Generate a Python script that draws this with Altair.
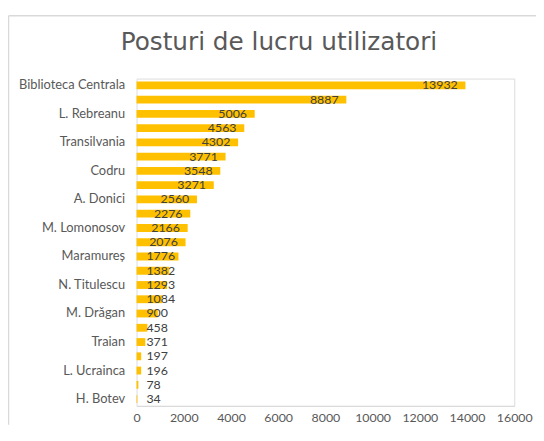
import altair as alt
import pandas as pd

categories = ["Biblioteca Centrala", "Ovidius", "L. Rebreanu", "Ștefan cel Mare",
              "Transilvania", "Alba Iulia", "Codru", "O. Ghibu", "A. Donici",
              "Târgu Mureș", "M. Lomonosov", "Petru Movilă", "Maramureș",
              "Ginta Latină", "N. Titulescu", "Meridian", "M. Drăgan",
              "B. P. Hasdeu", "Traian", "Trandafirilor", "L. Ucrainca",
              "Sf. Iov", "H. Botev"]
values = [13932, 8887, 5006, 4563, 4302, 3771, 3548, 3271, 2560, 2276, 2166,
          2076, 1776, 1382, 1293, 1084, 900, 458, 371, 197, 196, 78, 34]
shown_labels = categories[::2]
x_ticks = [0, 2000, 4000, 6000, 8000, 10000, 12000, 14000, 16000]
title_text = "Posturi de lucru utilizatori"

W, H = 382, 331
PAD_L, PAD_T, PAD_R, PAD_B = 130, 69, 22, 19
XMAX = 16000
K = W / XMAX  # px per unit

df = pd.DataFrame({"cat": categories, "val": values})

y_enc = alt.Y("cat:N", sort=categories, title=None,
              scale=alt.Scale(paddingInner=0.45, paddingOuter=0.2),
              axis=alt.Axis(values=shown_labels, ticks=False, domain=False,
                            labelPadding=12, labelFontSize=13, labelColor="#595959",
                            labelFont="Lato", grid=False))

bars = alt.Chart(df).mark_bar(color="#FFC000").encode(
    x=alt.X("val:Q", title=None,
            scale=alt.Scale(domain=[0, XMAX], nice=False),
            axis=alt.Axis(values=x_ticks, ticks=False, grid=False, domainColor="#d9d9d9",
                          format="d", labelFontSize=12.5, labelColor="#595959",
                          labelFont="Lato", labelPadding=6, labelFlush=False)),
    y=y_enc,
)

labels = alt.Chart(df).transform_calculate(
    lx=f"max(datum.val - (length(toString(datum.val)) * 7.2 + 8) / {K}, 10 / {K})"
).mark_text(align="left", baseline="middle", fontSize=12.5, color="#404040",
            font="Lato").encode(
    x="lx:Q",
    y=alt.Y("cat:N", sort=categories),
    text="val:Q",
)

one = pd.DataFrame({"t": [title_text]})

border_top = alt.Chart(one).mark_rule(color="#d9d9d9", strokeWidth=1.5).encode(
    x=alt.value(-PAD_L + 0.5), x2=alt.value(W + PAD_R), y=alt.value(-PAD_T + 5.5)
)
border_left = alt.Chart(one).mark_rule(color="#d9d9d9", strokeWidth=1.5).encode(
    x=alt.value(-PAD_L + 0.5), y=alt.value(-PAD_T + 5.5), y2=alt.value(H + PAD_B)
)

title = alt.Chart(one).mark_text(
    align="center", baseline="alphabetic", fontSize=25, font="DejaVu Sans",
    color="#595959"
).encode(x=alt.value(W / 2 - 47), y=alt.value(-29), text="t:N")

chart = alt.layer(border_top, border_left, title, bars, labels).properties(
    width=W, height=H,
    padding={"left": PAD_L, "top": PAD_T, "right": PAD_R, "bottom": PAD_B},
    autosize=alt.AutoSizeParams(type="none"),
).configure_view(strokeWidth=0).configure(background="white")

chart.save("out.html", embed_options={"renderer": "svg", "actions": False})
